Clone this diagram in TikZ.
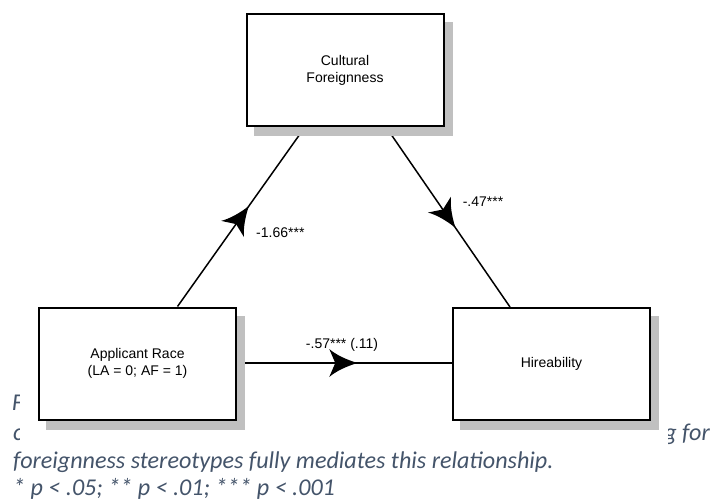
\documentclass[tikz,border=0pt]{standalone}
\usepackage{fontspec}
\setmainfont{Liberation Sans}
\newfontfamily\capfont{Carlito}
\usetikzlibrary{arrows.meta,decorations.markings,calc}
\definecolor{capblue}{HTML}{44546A}
\definecolor{shadowgray}{HTML}{C0C0C0}
\pgfdeclarelayer{bg}
\pgfdeclarelayer{mid}
\pgfsetlayers{bg,mid,main}
\begin{document}
\begin{tikzpicture}[x=1pt,y=-1pt,
  box/.style={draw=black, line width=2pt, fill=white, minimum width=197pt, minimum height=112pt,
    inner sep=0pt, align=center, font=\fontsize{14pt}{17pt}\selectfont},
  shade box/.style={fill=shadowgray, draw=none},
  conn/.style={line width=1.5pt, postaction={decorate},
    decoration={markings, mark=at position 0.55 with {
      \fill[black] (2,0) .. controls (-9,-3.5) and (-19,-8) .. (-26,-14)
        -- (-20,0) -- (-26,14) .. controls (-19,8) and (-9,3.5) .. (2,0) -- cycle;}}},
  lbl/.style={font=\fontsize{14pt}{17pt}\selectfont, inner sep=0pt},
  captext/.style={font=\capfont\itshape\fontsize{24.1pt}{28pt}\selectfont, text=capblue, inner sep=0pt, anchor=base west}]
\useasboundingbox (0,0) rectangle (722,502);
% caption fragments partly hidden behind the diagram
\begin{scope}
  \clip (0,380) rectangle (19,450);
  \node[captext] (c1) at (12,410) {F};
  \node[captext] (c2) at (13,440) {c};
\end{scope}
\begin{scope}
  \clip (668,415) rectangle (722,452);
  \node[captext, anchor=base east] (c3) at (710,440) {g for};
\end{scope}
\node[captext] (c4) at (13,468) {foreignness stereotypes fully mediates this relationship.};
\node[captext] (c5) at (13,495) {* \textit{p} < .05; ** \textit{p} < .01; *** \textit{p} < .001};
% boxes
\node[box] (cult) at (345,70) {Cultural\\Foreignness};
\node[box] (race) at (137.5,363.5) {Applicant Race\\(LA = 0; AF = 1)};
\node[box] (hire) at (551.5,364) {Hireability};
% shadows
\begin{pgfonlayer}{mid}
  \foreach \n in {cult,race,hire}
    \fill[shade box] ([xshift=8pt,yshift=-9pt]\n.south west) rectangle ([xshift=8pt,yshift=-9pt]\n.north east);
\end{pgfonlayer}
% connectors
\begin{pgfonlayer}{bg}
  \draw[conn] ([xshift=40pt]race.north) -- ([xshift=-40pt]cult.south);
  \draw[conn] ([xshift=41pt]cult.south) -- ([xshift=-41.5pt]hire.north);
  \draw[conn] (race.east |- 0,363) -- (hire.west |- 0,363);
\end{pgfonlayer}
% labels
\node[lbl, anchor=west] (l1) at (256,233) {-1.66***};
\node[lbl] (l2) at (483,202) {-.47***};
\node[lbl] (l3) at (342,345) {-.57*** (.11)};
\end{tikzpicture}
\end{document}
